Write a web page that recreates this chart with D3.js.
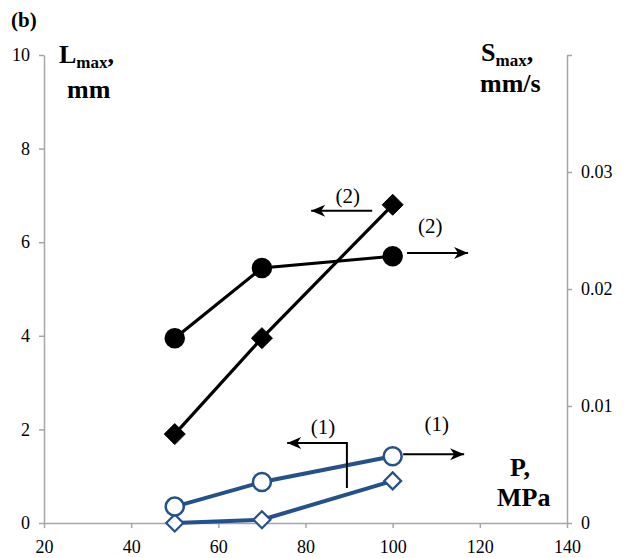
<!DOCTYPE html>
<html>
<head>
<meta charset="utf-8">
<script src="https://cdn.jsdelivr.net/npm/d3@7"></script>
<style>
  body { margin: 0; background: #fff; }
</style>
</head>
<body>
<div id="chart"></div>
<script>
// pressure P, MPa
const pressure = [50, 70, 100];
// Lmax, mm (left axis, diamonds)
const lmax1 = [0, 0.07, 0.9];
const lmax2 = [1.9, 3.95, 6.8];
// Smax, mm/s (right axis, circles)
const smax1 = [0.0014, 0.0035, 0.0057];
const smax2 = [0.0158, 0.0218, 0.0228];

const xTicks = [20, 40, 60, 80, 100, 120, 140];
const leftTicks = [0, 2, 4, 6, 8, 10];
const rightTicks = [0, 0.01, 0.02, 0.03, 0.04];

const serif = "'Liberation Serif', 'Times New Roman', serif";
const blue = "#24508c";
const axisGrey = "#a6a6a6";

const svg = d3.select("#chart")
  .append("svg")
    .attr("width", 627)
    .attr("height", 558)
    .attr("font-family", serif);

const x = d3.scaleLinear().domain([20, 140]).range([44, 567]);
const yL = d3.scaleLinear().domain([0, 10]).range([523, 55]);
const yR = d3.scaleLinear().domain([0, 0.04]).range([523, 55]);

// axes
const xAxis = svg.append("g")
  .attr("transform", "translate(0,523)")
  .call(d3.axisBottom(x).tickValues(xTicks).tickSizeInner(5).tickSizeOuter(0).tickPadding(12));

const leftAxis = svg.append("g")
  .attr("transform", "translate(44,0)")
  .call(d3.axisLeft(yL).tickValues(leftTicks).tickSizeInner(5).tickSizeOuter(0).tickPadding(9));

const rightAxis = svg.append("g")
  .attr("transform", "translate(567,0)")
  .call(d3.axisRight(yR).tickValues(rightTicks).tickSizeInner(5).tickSizeOuter(0).tickPadding(9)
    .tickFormat(d => d === 0.04 ? "" : (d === 0 ? "0" : d3.format(".2f")(d))));

[xAxis, leftAxis, rightAxis].forEach(g => {
  g.attr("font-family", serif).attr("font-size", 18);
  g.selectAll("path.domain").attr("stroke", axisGrey).attr("stroke-width", 1.5);
  g.selectAll(".tick line").attr("stroke", axisGrey).attr("stroke-width", 1.5);
  g.selectAll(".tick text")
    .attr("fill", "#000")
    .style("font-family", serif)
    .style("font-size", "18px");
});

// series
const series = [
  { vals: lmax1, y: yL, color: blue, shape: "diamond", fill: "#fff", width: 4 },
  { vals: smax1, y: yR, color: blue, shape: "circle", fill: "#fff", width: 4 },
  { vals: lmax2, y: yL, color: "#000", shape: "diamond", fill: "#000", width: 3.2 },
  { vals: smax2, y: yR, color: "#000", shape: "circle", fill: "#000", width: 3.2 }
];

series.forEach(s => {
  const pts = pressure.map((p, i) => [p, s.vals[i]]);
  svg.append("path")
    .datum(pts)
    .attr("fill", "none")
    .attr("stroke", s.color)
    .attr("stroke-width", s.width)
    .attr("d", d3.line().x(d => x(d[0])).y(d => s.y(d[1])));
});

series.forEach(s => {
  const pts = pressure.map((p, i) => [p, s.vals[i]]);
  const g = svg.append("g");
  if (s.shape === "circle") {
    g.selectAll("circle")
      .data(pts)
      .enter()
      .append("circle")
        .attr("cx", d => x(d[0]))
        .attr("cy", d => s.y(d[1]))
        .attr("r", 9)
        .attr("fill", s.fill)
        .attr("stroke", s.color)
        .attr("stroke-width", 2.5);
  } else {
    const half = s.fill === "#000" ? 10.5 : 8.5;
    g.selectAll("path")
      .data(pts)
      .enter()
      .append("path")
        .attr("transform", d => `translate(${x(d[0])},${s.y(d[1])})`)
        .attr("d", `M0,${-half}L${half},0L0,${half}L${-half},0Z`)
        .attr("fill", s.fill)
        .attr("stroke", s.color)
        .attr("stroke-width", s.fill === "#000" ? 1 : 2.2);
  }
});

// annotation arrows, given in (P, Lmax) coordinates
function arrow(points) {
  const px = points.map(p => [x(p[0]), yL(p[1])]);
  svg.append("path")
    .attr("d", d3.line()(px))
    .attr("fill", "none")
    .attr("stroke", "#000")
    .attr("stroke-width", 2);
  const [x1, y1] = px[px.length - 2];
  const [x2, y2] = px[px.length - 1];
  const a = Math.atan2(y2 - y1, x2 - x1) * 180 / Math.PI;
  svg.append("path")
    .attr("transform", `translate(${x2},${y2}) rotate(${a})`)
    .attr("d", "M0,0L-14,-6L-10,0L-14,6Z")
    .attr("fill", "#000");
}

arrow([[95.3, 6.67], [81.3, 6.67]]);
arrow([[103.3, 5.77], [117.3, 5.77]]);
arrow([[89.5, 0.75], [89.5, 1.71], [75.8, 1.71]]);
arrow([[102.4, 1.47], [116.4, 1.47]]);

const notes = [
  { label: "(2)", p: 89.7, v: 7.0 },
  { label: "(2)", p: 108.6, v: 6.35 },
  { label: "(1)", p: 84.0, v: 2.05 },
  { label: "(1)", p: 110.1, v: 2.13 }
];
svg.selectAll("text.note")
  .data(notes)
  .enter()
  .append("text")
    .attr("class", "note")
    .attr("x", d => x(d.p))
    .attr("y", d => yL(d.v))
    .attr("dy", "0.35em")
    .attr("text-anchor", "middle")
    .style("font-family", serif)
    .style("font-size", "21px")
    .text(d => d.label);

// titles
svg.append("text")
  .attr("x", 11).attr("y", 27)
  .style("font-family", serif)
  .style("font-size", "21px").style("font-weight", "bold")
  .text("(b)");

function subLabel(xp, yp, main, sub) {
  const t = svg.append("text")
    .attr("x", xp).attr("y", yp)
    .style("font-family", serif)
    .style("font-size", "26px").style("font-weight", "bold");
  t.append("tspan").text(main);
  t.append("tspan").attr("dy", 5).style("font-size", "17px").text(sub);
  t.append("tspan").attr("dy", -5).text(",");
}
function boldText(xp, yp, s) {
  svg.append("text")
    .attr("x", xp).attr("y", yp)
    .style("font-family", serif)
    .style("font-size", "26px").style("font-weight", "bold")
    .text(s);
}

subLabel(59, 63, "L", "max");
boldText(67, 98, "mm");
subLabel(481, 61, "S", "max");
boldText(480, 92, "mm/s");
boldText(510, 476, "P,");
boldText(497, 506, "MPa");
</script>
</body>
</html>
